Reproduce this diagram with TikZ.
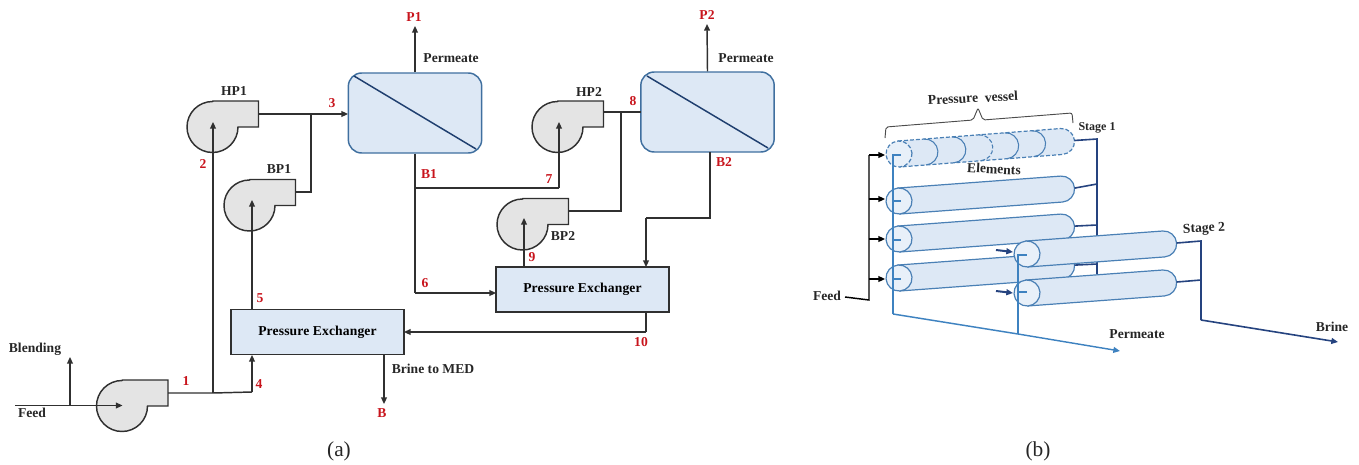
\documentclass[tikz,border=0pt]{standalone}
\usepackage{fontspec}
\setmainfont{Liberation Serif}
\usetikzlibrary{arrows.meta}
\definecolor{pumpfill}{HTML}{E4E4E4}
\definecolor{lineink}{HTML}{303030}
\definecolor{memfill}{HTML}{DDE8F5}
\definecolor{memedge}{HTML}{3F6F9F}
\definecolor{memdiag}{HTML}{1F3F6F}
\definecolor{headfill}{HTML}{E8F0F9}
\definecolor{vesseledge}{HTML}{4A80B5}
\definecolor{permline}{HTML}{3E82C0}
\definecolor{brineline}{HTML}{25437F}
\definecolor{lblred}{HTML}{C8141C}
\tikzset{
  x=0.75pt,y=-0.75pt,
  tipa/.style={-{Triangle[length=5pt,width=4.4pt]}},
  flow/.style={draw=lineink,line width=1.1pt},
  flowa/.style={flow,tipa},
  pumpbody/.style={draw=lineink,line width=1.1pt,fill=pumpfill,line join=miter},
  membrane/.style={draw=memedge,line width=1.1pt,fill=memfill,rounded corners=10pt,minimum width=100pt,minimum height=60pt,inner sep=0pt},
  exchanger/.style={draw=lineink,line width=1.1pt,fill=memfill,minimum width=129.5pt,minimum height=34pt,inner sep=0pt,font=\fontsize{10.2}{12}\selectfont\bfseries\addfontfeature{LetterSpace=1.0}},
  blklbl/.style={inner sep=0pt,text=black!85,font=\fontsize{10.2}{12}\selectfont\bfseries},
  redlbl/.style={inner sep=0pt,text=lblred,font=\fontsize{10.2}{12}\selectfont\bfseries},
  captiontext/.style={inner sep=0pt,text=black!85,font=\fontsize{16}{18}\selectfont},
  vbody/.style={draw=vesseledge,line width=0.9pt,fill=memfill},
  vhead/.style={draw=vesseledge,line width=0.9pt,fill=headfill},
  permflow/.style={draw=permline,line width=1.1pt},
  brineflow/.style={draw=brineline,line width=1.2pt},
  feedb/.style={draw=black,line width=1.1pt},
}
% pump: name, centre x, centre y
\newcommand{\pumpat}[3]{%
  \draw[pumpbody] (#2,#3-25.5) -- (#2+45.5,#3-25.5) -- (#2+45.5,#3+0.5) -- (#2+25,#3+0.5)
     arc[start angle=0,end angle=270,radius=25.5] -- cycle;
  \coordinate (#1c) at (#2,#3);
  \coordinate (#1o) at (#2+45.5,#3-12.5);
}
% vessel: name, centre x, centre y, length, tilt
\newcommand{\vesselat}[5]{%
  \begin{scope}[shift={(#2,#3)},rotate=#5]
    \draw[vbody] (0,-13) -- (#4,-13) arc[start angle=270,end angle=450,radius=13] -- (0,13) -- cycle;
    \draw[vhead] (0,0) circle[radius=13];
    \coordinate (#1c) at (0,0);
    \coordinate (#1e) at (#4+13,0);
    \coordinate (#1s) at (-6,0);
  \end{scope}
}
\begin{document}
\begin{tikzpicture}
\useasboundingbox (0,0) rectangle (1359,464);
% ---------- (a) ----------
\pumpat{fp}{122.5}{405.5}
\pumpat{hpa}{213}{126.5}
\pumpat{bpa}{250}{205}
\pumpat{hpb}{558}{126.5}
\pumpat{bpb}{523}{224}
\node[membrane] (ma) at (415,113) {};
\node[membrane] (mb) at (707.5,112) {};
\draw[draw=memdiag,line width=1.1pt] (354,76) -- (476,149);
\draw[draw=memdiag,line width=1.1pt] (647,76) -- (768,148);
\node[exchanger] (pxa) at (317.5,332) {Pressure Exchanger};
\node[exchanger] (pxb) at (582.5,289.5) {Pressure Exchanger};
% coordinates
\coordinate (fs) at (15,405.5);
\coordinate (bt) at (70,357);
\coordinate (bj) at (70,405.5);
\coordinate (j1) at (213,393);
\coordinate (c4a) at (252,392);
\coordinate (c4b) at (252,355);
\coordinate (t2) at (213,122);
\coordinate (c5a) at (252,309);
\coordinate (t5) at (252,200);
\coordinate (j3) at (311,114);
\coordinate (c3a) at (258,114);
\coordinate (c3b) at (348,114);
\coordinate (cb1) at (311,192);
\coordinate (pta) at (415,26);
\coordinate (c6a) at (415,293);
\coordinate (c6b) at (496,293);
\coordinate (j7) at (415,188);
\coordinate (c7) at (559,188);
\coordinate (t7) at (559,122);
\coordinate (c8a) at (603,112);
\coordinate (j8) at (621,112);
\coordinate (c8b) at (621,211);
\coordinate (c8c) at (568,211);
\coordinate (c9a) at (524,267);
\coordinate (t9) at (524,218);
\coordinate (ptb) at (707,24);
\coordinate (cb2a) at (710,152);
\coordinate (cb2b) at (710,218);
\coordinate (cb2c) at (646,218);
\coordinate (cb2d) at (646,267);
\coordinate (c10a) at (646,312);
\coordinate (c10b) at (646,332);
\coordinate (c10c) at (404,332);
\coordinate (bra) at (384,355);
\coordinate (brb) at (384,404);
% connectors
\draw[flowa] (fs) -- (fpc);
\draw[flowa] (bj) -- (bt);
\draw[flow] (fpo) -- (j1) -- (c4a);
\draw[flowa] (c4a) -- (c4b);
\draw[flowa] (j1) -- (t2);
\draw[flowa] (c5a) -- (t5);
\draw[flowa] (c3a) -- (c3b);
\draw[flow] (j3) -- (cb1) -- (295,192);
\draw[flowa] (ma.north) -- (pta);
\draw[flow] (ma.south) -- (c6a);
\draw[flowa] (c6a) -- (c6b);
\draw[flow] (j7) -- (c7);
\draw[flowa] (c7) -- (t7);
\draw[flow] (c8a) -- (641,112);
\draw[flow] (j8) -- (c8b) -- (c8c);
\draw[flowa] (c9a) -- (t9);
\draw[flowa] (mb.north) -- (ptb);
\draw[flow] (cb2a) -- (cb2b) -- (cb2c);
\draw[flowa] (cb2c) -- (cb2d);
\draw[flow] (c10a) -- (c10b);
\draw[flowa] (c10b) -- (c10c);
\draw[flowa] (bra) -- (brb);
% black labels
\node[blklbl] (tbl) at (35,349) {Blending};
\node[blklbl] (tfd) at (32,413) {Feed};
\node[blklbl] (thpa) at (234,91) {HP1};
\node[blklbl] (tbpa) at (279,169) {BP1};
\node[blklbl] (tpma) at (451,58) {Permeate};
\node[blklbl] (tpmb) at (746,58) {Permeate};
\node[blklbl] (thpb) at (589,92) {HP2};
\node[blklbl] (tbpb) at (563,236) {BP2};
\node[blklbl] (tbm) at (433,369) {Brine to MED};
% red labels
\node[redlbl] (rpa) at (414,17) {P1};
\node[redlbl] (rpb) at (707,15) {P2};
\node[redlbl] (r1) at (186,381) {1};
\node[redlbl] (r2) at (203,164) {2};
\node[redlbl] (r3) at (332,103) {3};
\node[redlbl] (r4) at (259,384) {4};
\node[redlbl] (r5) at (260,298) {5};
\node[redlbl] (r6) at (425,283) {6};
\node[redlbl] (r7) at (549,179) {7};
\node[redlbl] (r8) at (633,101) {8};
\node[redlbl] (r9) at (532,257) {9};
\node[redlbl] (r10) at (641,342) {10};
\node[redlbl] (rba) at (429,174) {B1};
\node[redlbl] (rbb) at (724,162) {B2};
\node[redlbl] (rb) at (382,413) {B};
\node[captiontext] (capa) at (339,451) {(a)};
% ---------- (b) ----------
% stage 1 brine collector (behind)
\coordinate (bc1) at (1097,139);
\coordinate (bc2) at (1097,184);
\coordinate (bc3) at (1097,225);
\coordinate (bc4) at (1097,264);
\coordinate (bc5) at (1097,274);
% first vessel, dashed
\begin{scope}[shift={(899,154)},rotate=4.4]
  \draw[vbody,dash pattern=on 3pt off 1.5pt] (0,-13) -- (163,-13) arc[start angle=270,end angle=450,radius=13] -- (0,13) -- cycle;
  \draw[vesseledge,line width=0.8pt] (26,-13) arc[start angle=270,end angle=450,radius=13];
  \draw[vesseledge,line width=0.8pt] (54,-13) arc[start angle=270,end angle=450,radius=13];
  \draw[vesseledge,line width=0.8pt,dash pattern=on 3pt off 1.5pt] (81,-13) arc[start angle=270,end angle=450,radius=13];
  \draw[vesseledge,line width=0.8pt] (107,-13) arc[start angle=270,end angle=450,radius=13];
  \draw[vesseledge,line width=0.8pt] (134,-13) arc[start angle=270,end angle=450,radius=13];
  \draw[vhead,dash pattern=on 3pt off 1.5pt] (0,0) circle[radius=13];
  \coordinate (vac) at (0,0);
  \coordinate (vae) at (176,0);
\end{scope}
\vesselat{vb}{899}{201}{163}{4.2}
\vesselat{vc}{899}{239}{163}{4.2}
\vesselat{vd}{899}{278}{163}{4.2}
\draw[brineflow] (vae) -- (bc1) -- (bc5);
\draw[brineflow] (vbe) -- (bc2);
\draw[brineflow] (vce) -- (bc3);
\draw[brineflow] (vde) -- (bc4);
% stage 1 permeate
\coordinate (pa) at (893,155);
\coordinate (pb) at (893,201);
\coordinate (pc) at (893,240);
\coordinate (pd) at (893,279);
\coordinate (pe) at (893,314);
\coordinate (pm) at (1018,334);
\coordinate (pf) at (1120,351);
\draw[permflow] (901,155) -- (pa) -- (pe);
\draw[permflow] (pb) -- (901,201);
\draw[permflow] (pc) -- (901,240);
\draw[permflow] (pd) -- (901,279);
\draw[permflow,tipa] (pe) -- (pm) -- (pf);
% feed manifold
\node[blklbl] (tfb) at (827,296) {Feed};
\coordinate (fb0) at (845,297);
\coordinate (fb1) at (869,300);
\coordinate (fb2) at (869,155);
\coordinate (fb3) at (869,199);
\coordinate (fb4) at (869,239);
\coordinate (fb5) at (869,279);
\draw[feedb] (fb0) -- (fb1) -- (fb2);
\draw[feedb,tipa] (fb2) -- (885,155);
\draw[feedb,tipa] (fb3) -- (885,199);
\draw[feedb,tipa] (fb4) -- (885,239);
\draw[feedb,tipa] (fb5) -- (885,279);
% stage 2
\vesselat{ve}{1027}{254}{137}{4.2}
\vesselat{vf}{1027}{293}{137}{4.2}
\coordinate (sa) at (1201,241);
\coordinate (sb) at (1201,280);
\coordinate (sc) at (1201,320);
\coordinate (sd) at (1338,342);
\draw[brineflow] (vee) -- (sa) -- (sc);
\draw[brineflow] (vfe) -- (sb);
\draw[brineflow,tipa] (sc) -- (sd);
\draw[brineflow,line width=1.5pt,tipa] (996,250) -- (1013,252);
\draw[brineflow,line width=1.5pt,tipa] (996,291) -- (1013,293);
\draw[permflow] (pm) -- (1018,255) -- (1027,255);
\draw[permflow] (1018,292) -- (1027,292);
% bracket
\coordinate (bk1) at (885,138);
\coordinate (bk2) at (886,127);
\coordinate (bk3) at (973,120);
\coordinate (bk4) at (978,108);
\coordinate (bk5) at (983,120);
\coordinate (bk6) at (1072,113);
\coordinate (bk7) at (1073,123);
\draw[draw=black!70,line width=0.7pt,rounded corners=1.5pt] (bk1) -- (bk2) -- (bk3) -- (bk4) -- (bk5) -- (bk6) -- (bk7);
% labels
\node[blklbl,rotate=3] (tpv) at (973,98) {Pressure\ \ vessel};
\node[blklbl,rotate=-3] (tel) at (994,169) {Elements};
\node[blklbl,font=\fontsize{9}{11}\selectfont\bfseries] (tsa) at (1097,128) {Stage 1};
\node[blklbl,rotate=3] (tsb) at (1204,229) {Stage 2};
\node[blklbl] (tpq) at (1137,334) {Permeate};
\node[blklbl] (tbr) at (1332,327) {Brine};
\node[captiontext] (capb) at (1038,451) {(b)};
\end{tikzpicture}
\end{document}
